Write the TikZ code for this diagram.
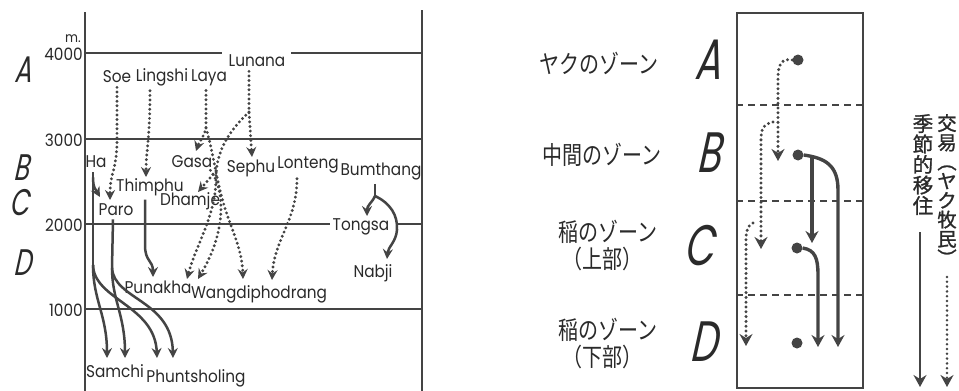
\documentclass[tikz,border=0pt]{standalone}
\usepackage{fontspec}
\setmainfont{Poppins}[FakeStretch=0.9]
\newfontfamily\jpf{Noto Sans CJK JP}[FakeStretch=0.8]
\newfontfamily\jpv{Noto Sans CJK JP}[FakeBold=1.2]
\newfontfamily\bigf{Poppins}[FakeSlant=0.22,FakeStretch=0.68]
\usetikzlibrary{arrows.meta,calc}
\definecolor{lc}{HTML}{444444}
\definecolor{tc}{HTML}{2A2A2A}
\begin{document}
\begin{tikzpicture}[x=1pt,y=-1pt,
  ln/.style={draw=lc,line width=1.3pt},
  tip/.style={-{Stealth[length=10pt,width=10pt,inset=3.5pt]}},
  sol/.style={draw=lc,line width=2.5pt,tip},
  soln/.style={draw=lc,line width=2.5pt},
  dots/.style={draw=lc,line width=3.2pt,line cap=round,dash pattern=on 0pt off 4.6pt,tip},
  rsol/.style={draw=lc,line width=3.4pt,-{Stealth[length=12pt,width=13pt,inset=4pt]}},
  rdots/.style={draw=lc,line width=3.3pt,line cap=round,dash pattern=on 0pt off 4.8pt,-{Stealth[length=12pt,width=13pt,inset=4pt]}},
  dsh/.style={draw=lc,line width=1.3pt,dash pattern=on 7pt off 5pt},
  nm/.style={inner sep=0pt,text=tc,anchor=base,font=\fontsize{17}{17}\selectfont},
  ax/.style={inner sep=0pt,text=tc,anchor=base east,font=\fontsize{17}{17}\selectfont},
  zl/.style={inner sep=0pt,text=tc,font=\bigf\fontsize{37}{37}\selectfont},
  zr/.style={inner sep=0pt,text=tc,font=\bigf\fontsize{57}{57}\selectfont},
  jp/.style={inner sep=0pt,text=tc,font=\jpf\fontsize{25}{24}\selectfont,align=center},
  vt/.style={inner sep=0pt,text=tc,anchor=north,align=center},
  blob/.style={circle,fill=lc,minimum size=11pt,inner sep=0pt},
]
\useasboundingbox[fill=white] (0,0) rectangle (959,391);

% ---------------- left chart frame ----------------
\coordinate (axT) at (85,12);  \coordinate (axB) at (85,391);
\coordinate (rxT) at (422,10); \coordinate (rxB) at (422,391);
\draw[ln] (axT) -- (axB);
\draw[ln] (rxT) -- (rxB);
\draw[ln] (85,53) -- (222,53);  \draw[ln] (291,53) -- (422,53);
\draw[ln] (85,139) -- (422,139);
\draw[ln] (85,224) -- (330,224); \draw[ln] (397,224) -- (422,224);
\draw[ln] (85,309) -- (422,309);

\node[ax,font=\fontsize{14}{14}\selectfont] (unit) at (81,42) {m.};
\node[ax] (h4) at (83,60) {4000};
\node[ax] (h3) at (83,146) {3000};
\node[ax] (h2) at (83,231) {2000};
\node[ax] (h1) at (83,316) {1000};

\node[zl] (zA) at (23,70) {A};
\node[zl] (zB) at (21,168) {B};
\node[zl] (zC) at (19,203) {C};
\node[zl] (zD) at (22,263) {D};

% ---------------- place names ----------------
\node[nm] (Soe) at (117,82) {Soe};
\node[nm] (Lingshi) at (162,81) {Lingshi};
\node[nm] (Laya) at (209,81) {Laya};
\node[nm] (Lunana) at (257,66) {Lunana};
\node[nm] (Ha) at (96,167) {Ha};
\node[nm] (Gasa) at (192,167) {Gasa};
\node[nm] (Sephu) at (251,172) {Sephu};
\node[nm] (Lonteng) at (308,168) {Lonteng};
\node[nm] (Bumthang) at (381,175) {Bumthang};
\node[nm] (Thimphu) at (150,191) {Thimphu};
\node[nm] (Paro) at (116,215) {Paro};
\node[nm] (Dhamje) at (190,205) {Dhamje};
\node[nm] (Tongsa) at (361,230) {Tongsa};
\node[nm] (Nabji) at (373,277) {Nabji};
\node[nm] (Punakha) at (158,293) {Punakha};
\node[nm] (Wangdi) at (259,298) {Wangdiphodrang};
\node[nm] (Samchi) at (115,377) {Samchi};
\node[nm] (Phunts) at (196,382) {Phuntsholing};

% arrow end points
\coordinate (tSoe) at (110,200);
\coordinate (tLing) at (146,177);
\coordinate (tGasa) at (196,151);
\coordinate (tWang1) at (243,279);
\coordinate (tSephu) at (252,157);
\coordinate (tPun1) at (187,279);
\coordinate (tPun2) at (198,279);
\coordinate (tDham) at (198,192);
\coordinate (tWang2) at (272,280);
\coordinate (tHaParo) at (100,197);
\coordinate (tSam1) at (107,358);
\coordinate (tSam2) at (125,358);
\coordinate (tPh1) at (157,358);
\coordinate (tPh2) at (173,358);
\coordinate (tPun0) at (153,277);
\coordinate (tTong) at (367,216);
\coordinate (tNab) at (387,259);

% ---- dotted (yak herders' trade) ----
\draw[dots] ($(Soe.south)+(0,5)$) -- (117,140) .. controls (117,170) and (110,172) .. (tSoe);
\draw[dots] ($(Lingshi.south)+(-12,5)$) .. controls (150,140) and (146,150) .. (tLing);
\coordinate (laySplit) at (206,128);
\draw[dots] ($(Laya.south)+(-3,5)$) -- (laySplit) .. controls (204,137) and (199,142) .. (tGasa);
\draw[dots] (laySplit) .. controls (212,148) and (214,165) .. (220,190) .. controls (228,225) and (242,245) .. (tWang1);
\coordinate (lunSplit) at (249,112);
\draw[dots] ($(Lunana.south)+(-8,5)$) -- (lunSplit) -- (tSephu);
\draw[dots] (lunSplit) .. controls (230,130) and (216,150) .. (216,178) .. controls (216,215) and (196,245) .. (tPun1);
\coordinate (dhSplit) at (216,171);
\draw[dots] (dhSplit) -- (tDham);
\draw[dots] ($(Gasa.south east)+(-2,3)$) .. controls (222,185) and (230,225) .. (tPun2);
\draw[dots] ($(Lonteng.south)+(-11,6)$) .. controls (297,220) and (274,240) .. (tWang2);

% ---- solid (seasonal migration) ----
\coordinate (haSplit) at (93,265);
\draw[soln] ($(Ha.south)+(-3,5)$) -- (haSplit);
\draw[sol] ($(Ha.south)+(-3,10)$) .. controls (93,188) and (96,190) .. (tHaParo);
\draw[sol] (haSplit) .. controls (93,300) and (107,315) .. (tSam1);
\draw[sol] (haSplit) .. controls (94,300) and (155,305) .. (tPh1);
\coordinate (paroSplit) at (112,268);
\draw[soln] ($(Paro.south)+(-3,4)$) -- (paroSplit);
\draw[sol] (paroSplit) .. controls (112,300) and (125,315) .. (tSam2);
\draw[sol] (paroSplit) .. controls (114,300) and (172,300) .. (tPh2);
\draw[sol] ($(Thimphu.south)+(-5,4)$) -- (145,245) .. controls (145,262) and (153,260) .. (tPun0);
\coordinate (bumSplit) at (375,196);
\draw[soln] ($(Bumthang.south)+(-6,4)$) -- (bumSplit);
\draw[sol] (bumSplit) .. controls (372,203) and (367,205) .. (tTong);
\draw[sol] (bumSplit) .. controls (390,203) and (398,215) .. (397,230) .. controls (396,242) and (388,247) .. (tNab);

% ---------------- right diagram ----------------
\node[jp] (jA) at (599,63) {ヤクのゾーン};
\node[jp] (jB) at (602,155) {中間のゾーン};
\node[jp] (jC) at (608,232) {稲のゾーン};
\node[jp] (jCs) at (602,259) {（上部）};
\node[jp] (jD) at (608,330) {稲のゾーン};
\node[jp] (jDs) at (602,357) {（下部）};

\node[zr] (rA) at (708,60) {A};
\node[zr] (rB) at (708,153) {B};
\node[zr] (rC) at (698,246) {C};
\node[zr] (rD) at (703,342) {D};

\node[draw=lc,line width=1.8pt,minimum width=126pt,minimum height=375pt,inner sep=0pt] (box) at (800,200.5) {};
\draw[dsh] (box.west |- 0,105) -- (box.east |- 0,105);
\draw[dsh] (box.west |- 0,201) -- (box.east |- 0,201);
\draw[dsh] (box.west |- 0,295) -- (box.east |- 0,295);

\node[blob] (d1) at (798,60) {};
\node[blob] (d2) at (798,155) {};
\node[blob] (d3) at (797,248) {};
\node[blob] (d4) at (797,343) {};

\coordinate (t1) at (778,161);
\coordinate (s2) at (773,122); \coordinate (t2) at (761,249);
\coordinate (s3) at (753,223); \coordinate (t3) at (746,346);
\coordinate (t4) at (838,347);
\coordinate (s5) at (812,158); \coordinate (t5) at (812,243);
\coordinate (t6) at (818,347);

\draw[rdots] (d1.west) .. controls (782,58) and (778,64) .. (778,78) -- (t1);
\draw[rdots] (s2) .. controls (763,124) and (761,130) .. (761,140) -- (t2);
\draw[rdots] (s3) .. controls (747,226) and (746,232) .. (746,242) -- (t3);
\draw[rsol] (d2.east) .. controls (825,158) and (838,165) .. (838,190) -- (t4);
\draw[rsol] (s5) -- (t5);
\draw[rsol] (d3.east) .. controls (815,250) and (818,258) .. (818,275) -- (t6);

% ---------------- legend ----------------
\node[vt,font=\jpv\fontsize{20.5}{20.5}\selectfont] (vMig) at (923,114) {季\\節\\的\\移\\住};
\node[vt,font=\jpv\fontsize{19.3}{19.3}\selectfont] (vTr) at (947,114) {交\\易\\︵\\ヤ\\ク\\牧\\民\\︶};
\coordinate (lgS1) at (920,232); \coordinate (lgE1) at (920,387);
\coordinate (lgS2) at (947,277); \coordinate (lgE2) at (947,387);
\draw[rsol,line width=2.4pt] (lgS1) -- (lgE1);
\draw[rdots,line width=2.8pt] (lgS2) -- (lgE2);
\end{tikzpicture}
\end{document}
